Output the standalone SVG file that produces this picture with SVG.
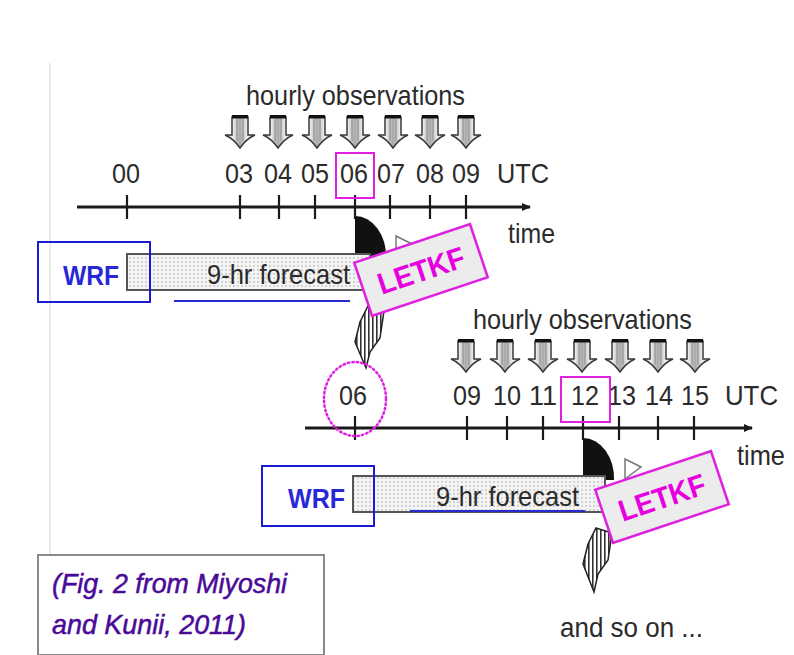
<svg xmlns="http://www.w3.org/2000/svg" width="794" height="655" viewBox="0 0 794 655">
<defs>
<style>
.lbl{font-family:"Liberation Sans",Arial,sans-serif;font-size:28px;fill:#2b2b2b}
.num{font-family:"Liberation Sans",Arial,sans-serif;font-size:28px;fill:#2b2b2b;text-anchor:middle}
.wrf{font-family:"Liberation Sans",Arial,sans-serif;font-size:27px;font-weight:bold;fill:#2828d8}
.letkf{font-family:"Liberation Sans",Arial,sans-serif;font-size:30px;font-weight:bold;fill:#e600e0}
.cite{font-family:"Liberation Sans",Arial,sans-serif;font-size:28px;font-style:italic;fill:#4a0a98;stroke:#4a0a98;stroke-width:0.5}
.axis{stroke:#1a1a1a;stroke-width:3;fill:none}
.tick{stroke:#1a1a1a;stroke-width:2.2}
.bluebox{fill:none;stroke:#1a1ad8;stroke-width:2}
.magbox{fill:none;stroke:#e020e0;stroke-width:2}
.bar{fill:url(#dots);stroke:#555;stroke-width:2}
.letkfbox{fill:#ececec;stroke:#e020e0;stroke-width:2.5}
.uline{stroke:#2a2ad0;stroke-width:2}
.hatch{fill:url(#vstripes);stroke:#222;stroke-width:1.5}
</style>
<pattern id="dots" width="4" height="4" patternUnits="userSpaceOnUse">
<rect width="4" height="4" fill="#f4f4f4"/>
<circle cx="2" cy="2" r="0.7" fill="#9a9a9a"/>
</pattern>
<pattern id="vstripes" width="4" height="4" patternUnits="userSpaceOnUse">
<rect width="4" height="4" fill="#ffffff"/>
<rect x="0" width="1.6" height="4" fill="#333"/>
</pattern>
<linearGradient id="obsg" x1="0" x2="1" y1="0" y2="0">
<stop offset="0" stop-color="#bdbdbd"/>
<stop offset="0.25" stop-color="#f2f2f2"/>
<stop offset="0.5" stop-color="#a8a8a8"/>
<stop offset="0.75" stop-color="#f0f0f0"/>
<stop offset="1" stop-color="#b5b5b5"/>
</linearGradient>
<symbol id="obs" overflow="visible">
<path d="M-8,2 H8 V20 H15 Q6,24 0,33 Q-6,24 -15,20 H-8 Z" fill="url(#obsg)" stroke="#3a3a3a" stroke-width="1.5"/>
<rect x="-8" y="0" width="16" height="3.5" fill="#111"/>
<line x1="-3" y1="4" x2="-3" y2="26" stroke="#888" stroke-width="1"/>
<line x1="3" y1="4" x2="3" y2="26" stroke="#888" stroke-width="1"/>
</symbol>
<marker id="ah" markerWidth="10" markerHeight="10" refX="8" refY="5" orient="auto" markerUnits="userSpaceOnUse">
<path d="M0,1 L9,5 L0,9 Z" fill="#1a1a1a"/>
</marker>
</defs>
<rect width="794" height="655" fill="#ffffff"/>
<line x1="50" y1="63" x2="50" y2="655" stroke="#dcdcdc" stroke-width="1.2"/>

<g id="connectors">
<line class="axis" x1="77" y1="207" x2="530" y2="207" marker-end="url(#ah)"/>
<g class="tick">
<line x1="127" y1="195" x2="127" y2="219"/>
<line x1="240" y1="195" x2="240" y2="219"/>
<line x1="279" y1="195" x2="279" y2="219"/>
<line x1="315" y1="195" x2="315" y2="219"/>
<line x1="355" y1="195" x2="355" y2="219"/>
<line x1="390" y1="195" x2="390" y2="219"/>
<line x1="430" y1="195" x2="430" y2="219"/>
<line x1="466" y1="195" x2="466" y2="219"/>
</g>
<line class="axis" x1="305" y1="428" x2="752" y2="428" marker-end="url(#ah)"/>
<g class="tick">
<line x1="355" y1="416" x2="355" y2="440"/>
<line x1="467" y1="416" x2="467" y2="440"/>
<line x1="507" y1="416" x2="507" y2="440"/>
<line x1="543" y1="416" x2="543" y2="440"/>
<line x1="583" y1="416" x2="583" y2="440"/>
<line x1="619" y1="416" x2="619" y2="440"/>
<line x1="658" y1="416" x2="658" y2="440"/>
<line x1="694" y1="416" x2="694" y2="440"/>
</g>
<path d="M355,216 V258 H386 A31,40 0 0 0 355,216 Z" fill="#111"/>
<path d="M396,236 L412,244 L396,256 Z" fill="#fff" stroke="#777" stroke-width="1.5"/>
<path d="M368,306 L384,311 L380,338 L370,352 L366,368 L355,342 L360,322 Z" class="hatch"/>
<path d="M583,438 V480 H614 A31,40 0 0 0 583,438 Z" fill="#111"/>
<path d="M625,459 L641,467 L625,479 Z" fill="#fff" stroke="#777" stroke-width="1.5"/>
<path d="M596,528 L612,533 L608,560 L598,574 L594,592 L583,564 L588,544 Z" class="hatch"/>
</g>

<g id="obs-top">
<text class="lbl" x="246" y="105" textLength="219" lengthAdjust="spacingAndGlyphs">hourly observations</text>
<use href="#obs" x="240" y="115"/>
<use href="#obs" x="278" y="115"/>
<use href="#obs" x="317" y="115"/>
<use href="#obs" x="355" y="115"/>
<use href="#obs" x="393" y="115"/>
<use href="#obs" x="430" y="115"/>
<use href="#obs" x="466" y="115"/>
</g>
<g id="labels-top">
<text class="num" x="126" y="183" textLength="28" lengthAdjust="spacingAndGlyphs">00</text>
<text class="num" x="239" y="183" textLength="28" lengthAdjust="spacingAndGlyphs">03</text>
<text class="num" x="278" y="183" textLength="28" lengthAdjust="spacingAndGlyphs">04</text>
<text class="num" x="315" y="183" textLength="28" lengthAdjust="spacingAndGlyphs">05</text>
<text class="num" x="354" y="183" textLength="28" lengthAdjust="spacingAndGlyphs">06</text>
<text class="num" x="391" y="183" textLength="28" lengthAdjust="spacingAndGlyphs">07</text>
<text class="num" x="430" y="183" textLength="28" lengthAdjust="spacingAndGlyphs">08</text>
<text class="num" x="466" y="183" textLength="28" lengthAdjust="spacingAndGlyphs">09</text>
<text class="lbl" x="497" y="183" textLength="52" lengthAdjust="spacingAndGlyphs">UTC</text>
<text class="lbl" x="508" y="243" textLength="47" lengthAdjust="spacingAndGlyphs">time</text>
<rect class="magbox" x="336" y="153" width="38" height="45"/>
</g>
<g id="forecast-1">
<rect class="bar" x="127" y="254" width="243" height="36"/>
<text class="lbl" x="207" y="284" textLength="143" lengthAdjust="spacingAndGlyphs">9-hr forecast</text>
<line class="uline" x1="174" y1="301" x2="350" y2="301"/>
</g>
<g id="wrf-1">
<rect class="bluebox" x="38" y="242" width="112" height="60"/>
<text class="wrf" x="63" y="285" textLength="56" lengthAdjust="spacingAndGlyphs">WRF</text>
</g>
<g id="letkf-1" transform="translate(421,270) rotate(-18.5)">
<rect class="letkfbox" x="-61" y="-28" width="122" height="56"/>
<text class="letkf" x="0" y="11" text-anchor="middle" textLength="90" lengthAdjust="spacingAndGlyphs">LETKF</text>
</g>

<g id="obs-bottom">
<text class="lbl" x="473" y="329" textLength="219" lengthAdjust="spacingAndGlyphs">hourly observations</text>
<use href="#obs" x="466" y="339"/>
<use href="#obs" x="505" y="339"/>
<use href="#obs" x="543" y="339"/>
<use href="#obs" x="582" y="339"/>
<use href="#obs" x="620" y="339"/>
<use href="#obs" x="658" y="339"/>
<use href="#obs" x="695" y="339"/>
</g>
<g id="labels-bottom">
<ellipse cx="355" cy="399" rx="31" ry="37" fill="none" stroke="#e020e0" stroke-width="2.5" stroke-dasharray="1.5 3" stroke-linecap="round"/>
<text class="num" x="353" y="405" textLength="28" lengthAdjust="spacingAndGlyphs">06</text>
<text class="num" x="467" y="405" textLength="28" lengthAdjust="spacingAndGlyphs">09</text>
<text class="num" x="507" y="405" textLength="28" lengthAdjust="spacingAndGlyphs">10</text>
<text class="num" x="543" y="405" textLength="28" lengthAdjust="spacingAndGlyphs">11</text>
<text class="num" x="585" y="405" textLength="28" lengthAdjust="spacingAndGlyphs">12</text>
<text class="num" x="622" y="405" textLength="28" lengthAdjust="spacingAndGlyphs">13</text>
<text class="num" x="659" y="405" textLength="28" lengthAdjust="spacingAndGlyphs">14</text>
<text class="num" x="695" y="405" textLength="28" lengthAdjust="spacingAndGlyphs">15</text>
<text class="lbl" x="725" y="405" textLength="53" lengthAdjust="spacingAndGlyphs">UTC</text>
<text class="lbl" x="737" y="465" textLength="48" lengthAdjust="spacingAndGlyphs">time</text>
<rect class="magbox" x="561" y="377" width="49" height="45"/>
</g>
<g id="forecast-2">
<rect class="bar" x="353" y="476" width="252" height="36"/>
<text class="lbl" x="436" y="506" textLength="143" lengthAdjust="spacingAndGlyphs">9-hr forecast</text>
<line class="uline" x1="410" y1="511" x2="585" y2="511"/>
</g>
<g id="wrf-2">
<rect class="bluebox" x="262" y="466" width="112" height="60"/>
<text class="wrf" x="288" y="508" textLength="57" lengthAdjust="spacingAndGlyphs">WRF</text>
</g>
<g id="letkf-2" transform="translate(662,497) rotate(-18.5)">
<rect class="letkfbox" x="-61" y="-28" width="122" height="56"/>
<text class="letkf" x="0" y="11" text-anchor="middle" textLength="90" lengthAdjust="spacingAndGlyphs">LETKF</text>
</g>
<g id="andsoon">
<text class="lbl" x="560" y="637" textLength="143" lengthAdjust="spacingAndGlyphs">and so on ...</text>
</g>
<g id="citation">
<rect x="38" y="555" width="286" height="100" fill="#fff" stroke="#8a8a8a" stroke-width="2"/>
<text class="cite" x="52" y="593" textLength="235" lengthAdjust="spacingAndGlyphs">(Fig. 2 from Miyoshi</text>
<text class="cite" x="52" y="634" textLength="194" lengthAdjust="spacingAndGlyphs">and Kunii, 2011)</text>
</g>
</svg>
